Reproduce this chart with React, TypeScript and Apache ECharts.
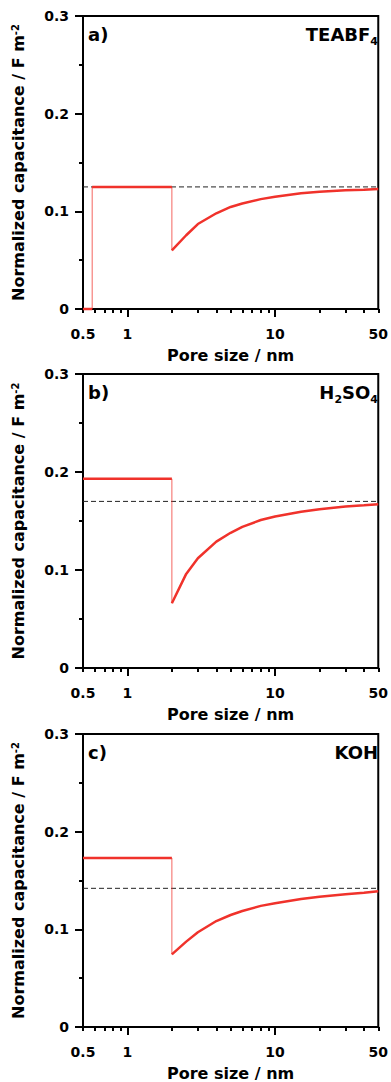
import React, { useEffect, useRef } from "react";
import * as echarts from "echarts";

// ---- data ----
const poreSizes = [2, 2.5, 3, 4, 5, 6, 8, 10, 15, 20, 30, 40, 50];
const curveA = [0.06, 0.0755, 0.087, 0.098, 0.1045, 0.108, 0.1125, 0.115, 0.1185, 0.12, 0.1215, 0.1222, 0.1228];
const curveB = [0.066, 0.096, 0.112, 0.129, 0.138, 0.144, 0.151, 0.1545, 0.1595, 0.162, 0.1648, 0.166, 0.167];
const curveC = [0.0744, 0.0874, 0.097, 0.1085, 0.1147, 0.1188, 0.124, 0.1267, 0.131, 0.1334, 0.1359, 0.1375, 0.139];
const plateau = [0.125, 0.193, 0.173];
const plateauStart = [0.577, 0.5, 0.5];
const limitValues = [0.125, 0.17, 0.142];
const stepX = 2;
const xMin = 0.5;
const xMax = 50;
const xLabelValues = [0.5, 1, 10, 50];
const xMajorTicks = [1, 10];
const xMinorTicks = [0.5, 0.6, 0.7, 0.8, 0.9, 2, 3, 4, 5, 6, 7, 8, 9, 20, 30, 40, 50];
const panelLetters = ["a)", "b)", "c)"];
const electrolytes = ["{t|TEABF}{s|4}", "{t|H}{s|2}{t|SO}{s|4}", "{t|KOH}"];
const curves = [curveA, curveB, curveC];

const FONT = "DejaVu Sans";
const RED = "#f0322b";
const gridTops = [16, 374, 734];
const gridHeights = [293, 294, 293];

export default function App() {
  const ref = useRef<HTMLDivElement>(null);
  useEffect(() => {
    document.body.style.margin = "0";
    const chart = echarts.init(ref.current!, null, { renderer: "svg" });
    const grids: any[] = [];
    const xAxes: any[] = [];
    const yAxes: any[] = [];
    const series: any[] = [];
    const titles: any[] = [];
    for (let i = 0; i < 3; i++) {
      grids.push({
        left: 83,
        right: 9,
        top: gridTops[i],
        height: gridHeights[i],
        show: true,
        borderColor: "#000",
        borderWidth: 2,
        backgroundColor: "transparent",
      });
      xAxes.push({
        type: "log",
        logBase: 10,
        gridIndex: i,
        min: xMin,
        max: xMax,
        position: "bottom",
        name: "Pore size / nm",
        nameLocation: "middle",
        nameGap: 38,
        nameTextStyle: { fontFamily: FONT, fontWeight: "bold", fontSize: 16, color: "#000" },
        axisLine: { onZero: false, lineStyle: { color: "#000", width: 2 } },
        axisTick: { show: true, length: 8, customValues: xMajorTicks, lineStyle: { color: "#000", width: 2 } },
        axisLabel: {
          customValues: xLabelValues,
          fontFamily: FONT,
          fontWeight: "bold",
          fontSize: 14,
          color: "#000",
          margin: 18,
          formatter: (v: number) => String(v),
        },
        splitLine: { show: false },
        minorTick: { show: false },
      });
      xAxes.push({
        type: "log",
        logBase: 10,
        gridIndex: i,
        min: xMin,
        max: xMax,
        position: "bottom",
        axisLine: { show: false, onZero: false },
        axisTick: { show: true, length: 4, customValues: xMinorTicks, lineStyle: { color: "#000", width: 2 } },
        axisLabel: { show: false },
        splitLine: { show: false },
      });
      yAxes.push({
        type: "value",
        gridIndex: i,
        min: 0,
        max: 0.3,
        interval: 0.1,
        name: "{t|Normalized capacitance / F m}{s|-2}",
        nameLocation: "middle",
        nameGap: 57,
        nameTextStyle: {
          rich: {
            t: { fontFamily: FONT, fontWeight: "bold", fontSize: 16, color: "#000" },
            s: { fontFamily: FONT, fontWeight: "bold", fontSize: 10, color: "#000", verticalAlign: "top" },
          },
        },
        axisLine: { lineStyle: { color: "#000", width: 2 } },
        axisTick: { length: 8, lineStyle: { color: "#000", width: 2 } },
        minorTick: { show: true, splitNumber: 2, length: 4, lineStyle: { color: "#000", width: 2 } },
        axisLabel: { fontFamily: FONT, fontWeight: "bold", fontSize: 14, color: "#000", margin: 14 },
        splitLine: { show: false },
        minorSplitLine: { show: false },
      });
      const xi = 2 * i;
      // dashed limit line
      series.push({
        type: "line",
        xAxisIndex: xi,
        yAxisIndex: i,
        symbol: "none",
        data: [[xMin, limitValues[i]], [xMax, limitValues[i]]],
        lineStyle: { color: "#222", width: 1, type: [5, 3] },
        z: 1,
      });
      // plateau
      series.push({
        type: "line",
        xAxisIndex: xi,
        yAxisIndex: i,
        symbol: "none",
        data: [[plateauStart[i], plateau[i]], [stepX, plateau[i]]],
        lineStyle: { color: RED, width: 2.5 },
        z: 3,
      });
      // drop at 2 nm
      series.push({
        type: "line",
        xAxisIndex: xi,
        yAxisIndex: i,
        symbol: "none",
        data: [[stepX, plateau[i]], [stepX, curves[i][0]]],
        lineStyle: { color: RED, width: 1, opacity: 0.75 },
        z: 3,
      });
      // curve
      series.push({
        type: "line",
        xAxisIndex: xi,
        yAxisIndex: i,
        symbol: "none",
        data: poreSizes.map((x, k) => [x, curves[i][k]]),
        lineStyle: { color: RED, width: 2.5 },
        z: 3,
      });
      if (plateauStart[i] > xMin) {
        series.push({
          type: "line",
          xAxisIndex: xi,
          yAxisIndex: i,
          symbol: "none",
          clip: false,
          data: [[xMin, 0], [plateauStart[i], 0]],
          lineStyle: { color: RED, width: 2.5 },
          z: 3,
        });
        series.push({
          type: "line",
          xAxisIndex: xi,
          yAxisIndex: i,
          symbol: "none",
          data: [[plateauStart[i], 0], [plateauStart[i], plateau[i]]],
          lineStyle: { color: RED, width: 1, opacity: 0.75 },
          z: 3,
        });
      }
      titles.push({
        text: panelLetters[i],
        left: 88,
        top: gridTops[i] + 9,
        padding: 0,
        textStyle: { fontFamily: FONT, fontWeight: "bold", fontSize: 18, color: "#000" },
      });
      titles.push({
        text: electrolytes[i],
        right: 13,
        top: gridTops[i] + 9,
        padding: 0,
        textStyle: {
          rich: {
            t: { fontFamily: FONT, fontWeight: "bold", fontSize: 18, color: "#000" },
            s: { fontFamily: FONT, fontWeight: "bold", fontSize: 11, color: "#000", verticalAlign: "bottom", padding: [0, 0, -4, 0] },
          },
        },
      });
    }
    chart.setOption({
      animation: false,
      backgroundColor: "#fff",
      title: titles,
      grid: grids,
      xAxis: xAxes,
      yAxis: yAxes,
      series,
    });
    return () => chart.dispose();
  }, []);
  return <div ref={ref} style={{ width: 391, height: 1082 }} />;
}
